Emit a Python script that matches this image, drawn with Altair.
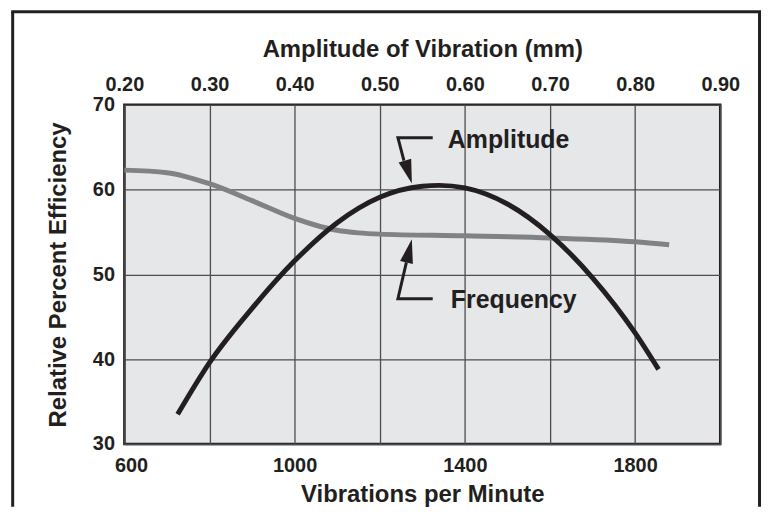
import altair as alt
import pandas as pd

# ---- data ----
vpm_amp = [725, 800, 900, 1000, 1100, 1200, 1300, 1340, 1400, 1500, 1600, 1700, 1800, 1855]
eff_amp = [33.5, 39.6, 46.0, 51.6, 56.1, 59.1, 60.4, 60.5, 60.2, 58.3, 54.7, 49.6, 43.1, 38.8]

vpm_freq = [600, 700, 800, 900, 1000, 1050, 1100, 1150, 1200, 1400, 1600, 1800, 1880]
eff_freq = [62.3, 62.0, 60.7, 58.7, 56.6, 55.8, 55.2, 54.9, 54.75, 54.55, 54.3, 53.85, 53.5]

bottom_ticks = [600, 1000, 1400, 1800]
amp_ticks = [0.20, 0.30, 0.40, 0.50, 0.60, 0.70, 0.80, 0.90]
y_ticks = [30, 40, 50, 60, 70]

label_names = ["Amplitude", "Frequency"]
label_vpm = [1360, 1367]
label_eff = [65.9, 47.0]

arrow_group = ["a", "a", "a", "f", "f", "f"]
arrow_vpm = [1324.5, 1242.7, 1256.8, 1324.5, 1242.7, 1262.6]
arrow_eff = [66.13, 66.13, 63.43, 47.13, 47.13, 51.42]

head_vpm = [1267.3, 1269.1]
head_eff = [62.08, 52.77]
head_angle = [343, 193]

INK = "#231f20"
GRAY = "#808285"
FONT = "Liberation Sans"

amp_df = pd.DataFrame({"vpm": vpm_amp, "eff": eff_amp})
freq_df = pd.DataFrame({"vpm": vpm_freq, "eff": eff_freq})
lab_df = pd.DataFrame({"name": label_names, "vpm": label_vpm, "eff": label_eff})
arr_df = pd.DataFrame({"g": arrow_group, "vpm": arrow_vpm, "eff": arrow_eff,
                       "o": list(range(len(arrow_group)))})
head_df = pd.DataFrame({"vpm": head_vpm, "eff": head_eff, "angle": head_angle})
amp_tick_df = pd.DataFrame({"amp": amp_ticks})
one = pd.DataFrame({"k": [0]})

xs = alt.Scale(domain=[600, 2000], nice=False, zero=False)
ys = alt.Scale(domain=[30, 70], nice=False, zero=False)

x_axis = alt.Axis(values=bottom_ticks, format="d", title="Vibrations per Minute", grid=False,
                  labelPadding=12, titlePadding=7, labelFlush=True, labelFlushOffset=10)
y_axis = alt.Axis(values=y_ticks, title="Relative Percent Efficiency", grid=True,
                  labelPadding=10, titlePadding=22, labelFlush=False)

amp_line = alt.Chart(amp_df).mark_line(color=INK, strokeWidth=5, interpolate="monotone",
                                       strokeCap="butt").encode(
    x=alt.X("vpm:Q", scale=xs, axis=x_axis),
    y=alt.Y("eff:Q", scale=ys, axis=y_axis),
)
freq_line = alt.Chart(freq_df).mark_line(color=GRAY, strokeWidth=5, interpolate="monotone",
                                         strokeCap="butt").encode(
    x=alt.X("vpm:Q", scale=xs),
    y=alt.Y("eff:Q", scale=ys),
)
arrows = alt.Chart(arr_df).mark_line(color=INK, strokeWidth=3, strokeJoin="miter").encode(
    x=alt.X("vpm:Q", scale=xs),
    y=alt.Y("eff:Q", scale=ys),
    detail="g:N",
    order="o:Q",
)
heads = alt.Chart(head_df).mark_point(
    shape="M0,1L-0.55,-1L0.55,-1Z", filled=True, color=INK, opacity=1, size=576,
    strokeWidth=0,
).encode(
    x=alt.X("vpm:Q", scale=xs),
    y=alt.Y("eff:Q", scale=ys),
    angle=alt.Angle("angle:Q", scale=None),
)
labels = alt.Chart(lab_df).mark_text(align="left", baseline="middle", font=FONT,
                                     fontSize=25, fontWeight="bold", color=INK).encode(
    x=alt.X("vpm:Q", scale=xs),
    y=alt.Y("eff:Q", scale=ys),
    text="name:N",
)

frame = alt.layer(
    alt.Chart(one).mark_rule(color=INK, strokeWidth=3).encode(
        x=alt.value(-112.3), y=alt.value(-93.5), y2=alt.value(404)),
    alt.Chart(one).mark_rule(color=INK, strokeWidth=3).encode(
        x=alt.value(-113.8), x2=alt.value(640), y=alt.value(-93.5)),
    alt.Chart(one).mark_rule(color=INK, strokeWidth=3).encode(
        x=alt.value(638.5), y=alt.value(-93.5), y2=alt.value(404)),
)

main = alt.layer(freq_line, amp_line, arrows, heads, labels, frame)

top = alt.Chart(amp_tick_df).mark_point(opacity=0).encode(
    x=alt.X("amp:Q", scale=alt.Scale(domain=[0.2, 0.9], nice=False, zero=False),
            axis=alt.Axis(orient="top", values=amp_ticks, format=".2f",
                          title="Amplitude of Vibration (mm)", grid=True,
                          labelPadding=10, titlePadding=14, labelFlush=False)),
)

chart = alt.layer(top, main).resolve_scale(x="independent").properties(
    width=599, height=341,
    padding={"left": 1, "top": 1, "right": 0, "bottom": 0},
    background="white",
).configure_view(
    fill="#e6e7e8", stroke=INK, strokeWidth=2.5,
).configure_axis(
    labelFont=FONT, labelFontSize=20, labelFontWeight="bold", labelColor=INK,
    titleFont=FONT, titleFontSize=24, titleFontWeight="bold", titleColor=INK,
    ticks=False, domain=False, gridColor="#4d4d4d", gridWidth=1.3, gridOpacity=1,
)

chart.save("out.html", embed_options={"renderer": "svg", "actions": False})
